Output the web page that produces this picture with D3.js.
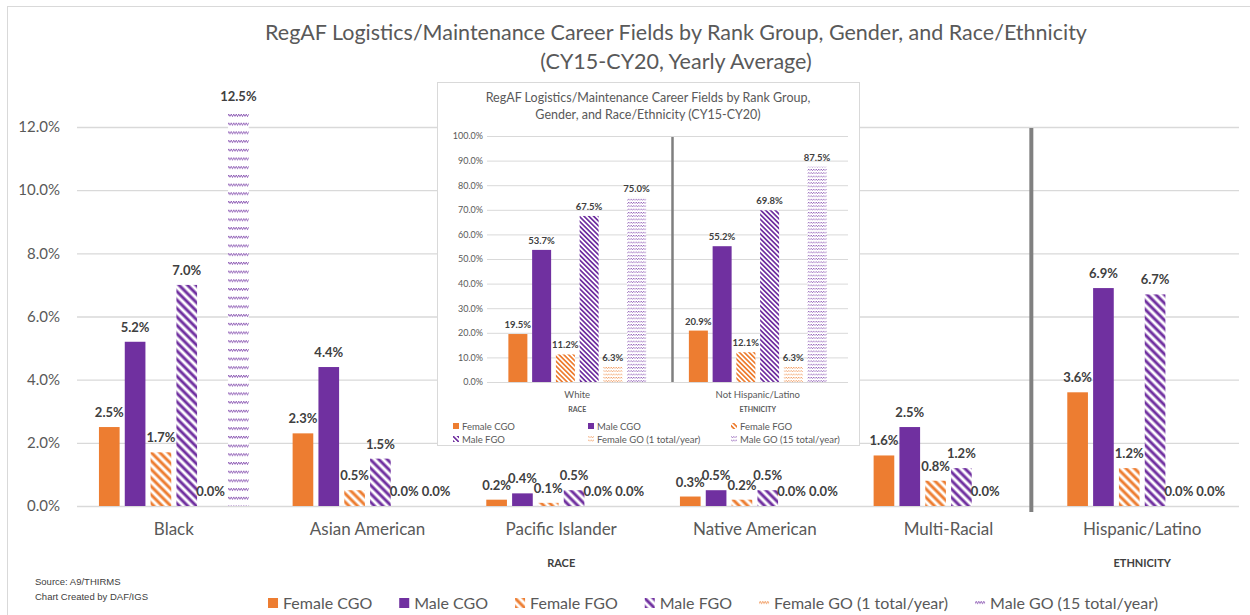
<!DOCTYPE html>
<html>
<head>
<meta charset="utf-8">
<script src="https://cdn.jsdelivr.net/npm/d3@7"></script>
<style>
  body { margin: 0; background: #fff; }
  text { font-family: Lato, "Noto Sans", sans-serif; }
</style>
</head>
<body>
<div id="chart"></div>
<script>
// ---- main chart data (percent of career field, yearly average) ----
var categories = ["Black", "Asian American", "Pacific Islander", "Native American", "Multi-Racial", "Hispanic/Latino"];
var seriesNames = ["Female CGO", "Male CGO", "Female FGO", "Male FGO", "Female GO (1 total/year)", "Male GO (15 total/year)"];
var femaleCGO = [2.5, 2.3, 0.2, 0.3, 1.6, 3.6];
var maleCGO = [5.2, 4.4, 0.4, 0.5, 2.5, 6.9];
var femaleFGO = [1.7, 0.5, 0.1, 0.2, 0.8, 1.2];
var maleFGO = [7.0, 1.5, 0.5, 0.5, 1.2, 6.7];
var femaleGO = [0.0, 0.0, 0.0, 0.0, 0.0, 0.0];
var maleGO = [12.5, 0.0, 0.0, 0.0, null, 0.0];
var yTicks = [0, 2, 4, 6, 8, 10, 12];
var raceCategories = categories.slice(0, 5);
var ethnicityCategories = categories.slice(5);

// ---- inset chart data ----
var insetCategories = ["White", "Not Hispanic/Latino"];
var insetGroups = ["RACE", "ETHNICITY"];
var insetFemaleCGO = [19.5, 20.9];
var insetMaleCGO = [53.7, 55.2];
var insetFemaleFGO = [11.2, 12.1];
var insetMaleFGO = [67.5, 69.8];
var insetFemaleGO = [6.3, 6.3];
var insetMaleGO = [75.0, 87.5];
var insetTicks = [0, 10, 20, 30, 40, 50, 60, 70, 80, 90, 100];

var orange = "#ED7D31";
var purple = "#7030A0";
var gray = "#595959";

var svg = d3.select("#chart")
  .append("svg")
  .attr("width", 1250)
  .attr("height", 615);

// outer chart border
svg.append("rect")
  .attr("x", 7.5).attr("y", 6.5)
  .attr("width", 1260).attr("height", 640)
  .attr("fill", "#fff")
  .attr("stroke", "#d9d9d9");

// ---- fill patterns ----
var defs = svg.append("defs");

function stripePattern(id, color, spacing, thick) {
  var p = defs.append("pattern")
    .attr("id", id)
    .attr("patternUnits", "userSpaceOnUse")
    .attr("width", spacing).attr("height", spacing)
    .attr("patternTransform", "rotate(-45)");
  p.append("rect").attr("width", spacing).attr("height", spacing).attr("fill", "#fff");
  p.append("line")
    .attr("x1", spacing / 2).attr("x2", spacing / 2)
    .attr("y1", 0).attr("y2", spacing)
    .attr("stroke", color).attr("stroke-width", thick);
}

// rows of small zigzags (Excel "wave"-like texture)
function wavePattern(id, color, rowGap, amp) {
  var p = defs.append("pattern")
    .attr("id", id)
    .attr("patternUnits", "userSpaceOnUse")
    .attr("width", 5).attr("height", rowGap);
  p.append("rect").attr("width", 5).attr("height", rowGap).attr("fill", "#fff");
  p.append("path")
    .attr("d", `M0,${1 + amp} L1.25,1 L2.5,${1 + amp} L3.75,1 L5,${1 + amp}`)
    .attr("fill", "none")
    .attr("stroke", color).attr("stroke-width", 0.7);
}

stripePattern("fFGO", orange, 6, 3);
stripePattern("mFGO", purple, 6, 3);
wavePattern("fGO", orange, 8.7, 2.5);
wavePattern("mGO", purple, 8.7, 2.5);
stripePattern("fFGOs", orange, 3.4, 1.7);
stripePattern("mFGOs", purple, 3.4, 1.7);
wavePattern("fGOs", orange, 3.3, 1.2);
wavePattern("mGOs", purple, 3.3, 1.2);

var seriesFills = [orange, purple, "url(#fFGO)", "url(#mFGO)", "url(#fGO)", "url(#mGO)"];
var insetFills = [orange, purple, "url(#fFGOs)", "url(#mFGOs)", "url(#fGOs)", "url(#mGOs)"];

// ---- main title ----
svg.append("text")
  .attr("x", 676).attr("y", 40)
  .attr("text-anchor", "middle")
  .attr("font-size", 21.5).attr("fill", gray)
  .text("RegAF Logistics/Maintenance Career Fields by Rank Group, Gender, and Race/Ethnicity");
svg.append("text")
  .attr("x", 676).attr("y", 69)
  .attr("text-anchor", "middle")
  .attr("font-size", 21.5).attr("fill", gray)
  .text("(CY15-CY20, Yearly Average)");

// ---- main scales ----
var plotLeft = 77, plotRight = 1239;
var x0 = d3.scaleBand()
  .domain(categories)
  .range([plotLeft, plotRight]);
var x1 = d3.scaleBand()
  .domain(seriesNames)
  .range([0, x0.bandwidth()])
  .paddingInner(0.2)
  .paddingOuter(0.85);
var y = d3.scaleLinear()
  .domain([0, 12])
  .range([506, 127]);

// y axis with gridlines
var yAxis = svg.append("g")
  .attr("transform", `translate(${plotLeft},0)`)
  .call(d3.axisLeft(y)
    .tickValues(yTicks)
    .tickSize(-(plotRight - plotLeft))
    .tickPadding(17)
    .tickFormat(d => d.toFixed(1) + "%"));
yAxis.select(".domain").remove();
yAxis.selectAll("line").attr("stroke", "#d9d9d9").attr("stroke-width", 1.3);
yAxis.selectAll("text")
  .attr("fill", gray)
  .style("font-size", "15px")
  .style("font-family", "Lato, sans-serif");

// category labels
var xAxis = svg.append("g")
  .attr("transform", `translate(0,${y(0)})`)
  .call(d3.axisBottom(x0).tickSize(0).tickPadding(17));
xAxis.select(".domain").remove();
xAxis.selectAll("text")
  .attr("fill", gray)
  .style("font-size", "17px")
  .style("font-family", "Lato, sans-serif");

// group labels (RACE / ETHNICITY)
var raceCenter = (x0(raceCategories[0]) + x0(raceCategories[raceCategories.length - 1]) + x0.bandwidth()) / 2;
var ethCenter = x0(ethnicityCategories[0]) + x0.bandwidth() / 2;
svg.append("text")
  .attr("x", raceCenter).attr("y", 567)
  .attr("text-anchor", "middle")
  .attr("font-size", 11).attr("font-weight", "bold").attr("fill", "#404040")
  .text("RACE");
svg.append("text")
  .attr("x", ethCenter).attr("y", 567)
  .attr("text-anchor", "middle")
  .attr("font-size", 11).attr("font-weight", "bold").attr("fill", "#404040")
  .text("ETHNICITY");

// separator between race and ethnicity
var sepX = x0(ethnicityCategories[0]) - 14;
svg.append("line")
  .attr("x1", sepX).attr("x2", sepX)
  .attr("y1", y(12) + 1).attr("y2", y(0) + 6)
  .attr("stroke", "#808080").attr("stroke-width", 4);

// ---- main bars ----
var seriesValues = [femaleCGO, maleCGO, femaleFGO, maleFGO, femaleGO, maleGO];
var barData = [];
categories.forEach(function(cat, i) {
  seriesNames.forEach(function(s, j) {
    barData.push({ cat: cat, series: s, idx: j, value: seriesValues[j][i] });
  });
});

var barGroup = svg.append("g");
barGroup.selectAll("rect")
  .data(barData.filter(d => d.value !== null))
  .enter()
  .append("rect")
  .attr("x", d => x0(d.cat) + x1(d.series))
  .attr("y", d => y(d.value))
  .attr("width", x1.bandwidth())
  .attr("height", d => y(0) - y(d.value))
  .attr("fill", d => seriesFills[d.idx]);

// neighbouring zero labels of the two GO series get pushed apart a little
function labelShift(d) {
  if (d.value !== 0) return 0;
  if (d.idx === 4) return -2;
  if (d.idx === 5) return 4;
  return 0;
}

barGroup.selectAll("text")
  .data(barData.filter(d => d.value !== null))
  .enter()
  .append("text")
  .attr("x", d => x0(d.cat) + x1(d.series) + x1.bandwidth() / 2 + labelShift(d))
  .attr("y", d => y(d.value) - 10)
  .attr("text-anchor", "middle")
  .attr("font-size", 13).attr("font-weight", "bold").attr("fill", "#404040")
  .text(d => d.value.toFixed(1) + "%");

// ---- main legend ----
var legend = svg.append("g");
var lx = 0;
seriesNames.forEach(function(name, j) {
  var item = legend.append("g").attr("transform", `translate(${lx},0)`);
  item.append("rect")
    .attr("x", 0).attr("y", 598)
    .attr("width", 10).attr("height", 10)
    .attr("fill", seriesFills[j]);
  var t = item.append("text")
    .attr("x", 15).attr("y", 609)
    .attr("font-size", 16).attr("fill", gray)
    .text(name);
  lx += 15 + t.node().getComputedTextLength() + 27;
});
var legendWidth = lx - 27;
legend.attr("transform", `translate(${713 - legendWidth / 2},0)`);

// source note
svg.append("text")
  .attr("x", 35).attr("y", 585)
  .attr("font-size", 9.5).attr("fill", "#404040")
  .style("font-family", "'Liberation Sans Narrow', 'Liberation Sans', sans-serif")
  .text("Source: A9/THIRMS");
svg.append("text")
  .attr("x", 35).attr("y", 600)
  .attr("font-size", 9.5).attr("fill", "#404040")
  .style("font-family", "'Liberation Sans Narrow', 'Liberation Sans', sans-serif")
  .text("Chart Created by DAF/IGS");

// ---- inset chart ----
var inset = svg.append("g");
inset.append("rect")
  .attr("x", 437.5).attr("y", 82.5)
  .attr("width", 422).attr("height", 363)
  .attr("fill", "#fff")
  .attr("stroke", "#d9d9d9");

inset.append("text")
  .attr("x", 648).attr("y", 102)
  .attr("text-anchor", "middle")
  .attr("font-size", 12.5).attr("fill", gray)
  .text("RegAF Logistics/Maintenance Career Fields by Rank Group,");
inset.append("text")
  .attr("x", 648).attr("y", 119)
  .attr("text-anchor", "middle")
  .attr("font-size", 12.5).attr("fill", gray)
  .text("Gender, and Race/Ethnicity (CY15-CY20)");

var ix0 = d3.scaleBand()
  .domain(insetCategories)
  .range([487, 848]);
var ix1 = d3.scaleBand()
  .domain(seriesNames)
  .range([0, ix0.bandwidth()])
  .paddingInner(0.2)
  .paddingOuter(0.9);
var iy = d3.scaleLinear()
  .domain([0, 100])
  .range([382, 136]);

var iyAxis = inset.append("g")
  .attr("transform", "translate(487,0)")
  .call(d3.axisLeft(iy)
    .tickValues(insetTicks)
    .tickSize(-(848 - 487))
    .tickPadding(4)
    .tickFormat(d => d.toFixed(1) + "%"));
iyAxis.select(".domain").remove();
iyAxis.selectAll("line").attr("stroke", "#d9d9d9");
iyAxis.selectAll("text")
  .attr("fill", gray)
  .style("font-size", "9px")
  .style("font-family", "Lato, sans-serif");

var ixAxis = inset.append("g")
  .attr("transform", `translate(0,${iy(0)})`)
  .call(d3.axisBottom(ix0).tickSize(0).tickPadding(9));
ixAxis.select(".domain").remove();
ixAxis.selectAll("text")
  .attr("fill", gray)
  .style("font-size", "9.5px")
  .style("font-family", "Lato, sans-serif");

inset.selectAll(".igroup")
  .data(insetGroups)
  .enter()
  .append("text")
  .attr("class", "igroup")
  .attr("x", (d, i) => ix0(insetCategories[i]) + ix0.bandwidth() / 2)
  .attr("y", 411.5)
  .attr("text-anchor", "middle")
  .attr("font-size", 7).attr("font-weight", "bold").attr("fill", gray)
  .text(d => d);

var iSepX = ix0(insetCategories[1]) + 5;
inset.append("line")
  .attr("x1", iSepX).attr("x2", iSepX)
  .attr("y1", iy(100) + 1).attr("y2", iy(0))
  .attr("stroke", "#7f7f7f").attr("stroke-width", 2.5);

var insetValues = [insetFemaleCGO, insetMaleCGO, insetFemaleFGO, insetMaleFGO, insetFemaleGO, insetMaleGO];
var insetData = [];
insetCategories.forEach(function(cat, i) {
  seriesNames.forEach(function(s, j) {
    insetData.push({ cat: cat, series: s, idx: j, value: insetValues[j][i] });
  });
});

inset.selectAll(".ibar")
  .data(insetData)
  .enter()
  .append("rect")
  .attr("class", "ibar")
  .attr("x", d => ix0(d.cat) + ix1(d.series))
  .attr("y", d => iy(d.value))
  .attr("width", ix1.bandwidth())
  .attr("height", d => iy(0) - iy(d.value))
  .attr("fill", d => insetFills[d.idx]);

inset.selectAll(".ilabel")
  .data(insetData)
  .enter()
  .append("text")
  .attr("class", "ilabel")
  .attr("x", d => ix0(d.cat) + ix1(d.series) + ix1.bandwidth() / 2)
  .attr("y", d => iy(d.value) - 6)
  .attr("text-anchor", "middle")
  .attr("font-size", 9.5).attr("font-weight", "bold").attr("fill", "#404040")
  .text(d => d.value.toFixed(1) + "%");

// inset legend: two rows of three
var iLegendCols = [453, 588, 731];
var iLegendRows = [426, 439];
seriesNames.forEach(function(name, j) {
  var lxPos = iLegendCols[j % 3];
  var lyPos = iLegendRows[Math.floor(j / 3)];
  inset.append("rect")
    .attr("x", lxPos).attr("y", lyPos - 3)
    .attr("width", 6).attr("height", 6)
    .attr("fill", insetFills[j]);
  inset.append("text")
    .attr("x", lxPos + 9).attr("y", lyPos + 3.5)
    .attr("font-size", 9.5).attr("fill", gray)
    .text(name);
});
</script>
</body>
</html>
